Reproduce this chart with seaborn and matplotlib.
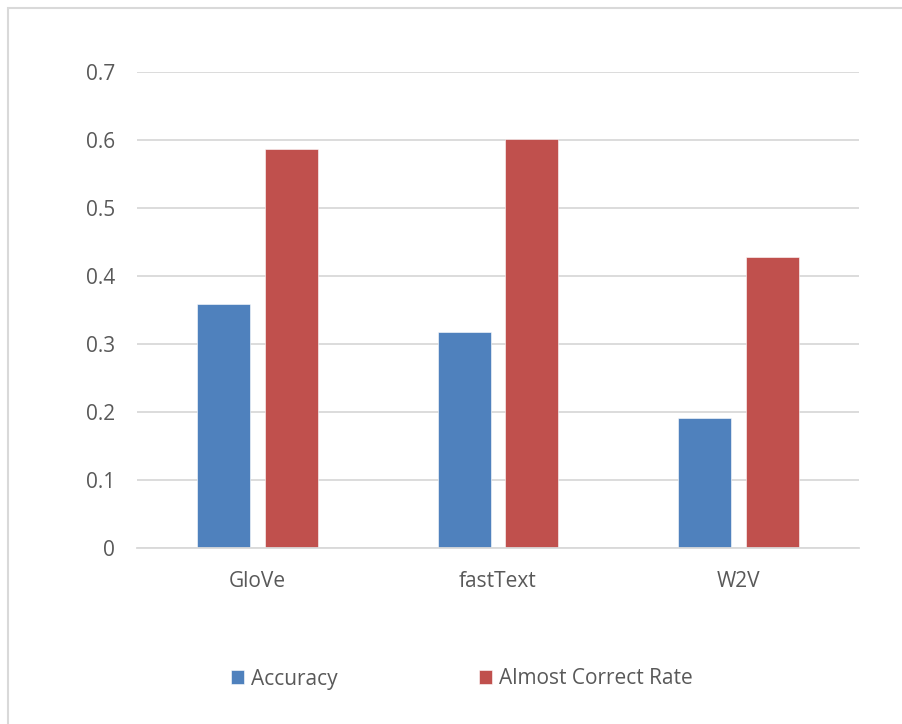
import matplotlib
matplotlib.use("Agg")
import matplotlib.pyplot as plt
from matplotlib.patches import Rectangle
import pandas as pd
import seaborn as sns

# Embedding methods and their scores
models = ["GloVe", "fastText", "W2V"]
accuracy = [0.359, 0.318, 0.191]
almost_correct = [0.587, 0.601, 0.428]
series_names = ["Accuracy", "Almost Correct Rate"]
yticks = [0, 0.1, 0.2, 0.3, 0.4, 0.5, 0.6, 0.7]
ytick_labels = ["0", "0.1", "0.2", "0.3", "0.4", "0.5", "0.6", "0.7"]

df = pd.DataFrame({
    "Model": models * 2,
    "Series": [series_names[0]] * len(models) + [series_names[1]] * len(models),
    "Value": accuracy + almost_correct,
})

sns.set_theme(style="white")
plt.rcParams["font.family"] = ["Open Sans", "DejaVu Sans"]

text_color = "#595959"
grid_color = "#d9d9d9"
palette = {series_names[0]: "#4F81BD", series_names[1]: "#C0504D"}
fs = 15

fig = plt.figure(figsize=(9.02, 7.24), dpi=100)
fig.patch.set_facecolor("white")
ax = fig.add_axes([137 / 902, 176 / 724, 722 / 902, 476 / 724])

sns.barplot(data=df, x="Model", y="Value", hue="Series", palette=palette,
            width=0.56, gap=0.214, saturation=1, ax=ax,
            edgecolor="#ffffff", linewidth=0.4, legend=True)

ax.set_ylim(0, 0.7)
ax.set_xlim(-0.5, len(models) - 0.5)
ax.set_yticks(yticks)
ax.set_yticklabels(ytick_labels)
ax.yaxis.grid(True, color=grid_color, linewidth=1.3)
ax.set_axisbelow(True)
ax.set_xlabel("")
ax.set_ylabel("")
for side in ["top", "right", "left"]:
    ax.spines[side].set_visible(False)
ax.spines["bottom"].set_color(grid_color)
ax.spines["bottom"].set_linewidth(1.3)
ax.tick_params(axis="both", length=0, labelsize=fs, colors=text_color)
ax.tick_params(axis="y", pad=16)
ax.tick_params(axis="x", pad=16.5)

handles, labels = ax.get_legend_handles_labels()
ax.get_legend().remove()
fig.legend(handles, labels, loc="center", bbox_to_anchor=(462 / 902, 45 / 724),
           ncol=2, frameon=False, fontsize=fs, labelcolor=text_color,
           handlelength=0.62, handleheight=0.62, handletextpad=0.34,
           columnspacing=6.8)

# Chart-area outline
fig.patches.append(Rectangle((8 / 902, -0.1), 1.1, (724 - 8) / 724 + 0.1,
                             transform=fig.transFigure, fill=False,
                             edgecolor=grid_color, linewidth=1.5))

fig.savefig("out.png", dpi=100, facecolor="white")
